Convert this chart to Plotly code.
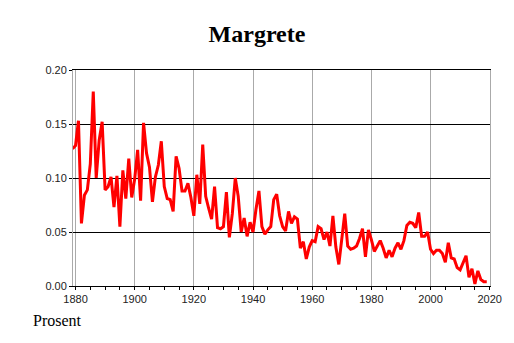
import plotly.graph_objects as go

# Share of the population named Margrete, by year
start_year = 1879
share = [
    0.127, 0.130, 0.153, 0.058, 0.084, 0.089, 0.113, 0.180, 0.100, 0.135,
    0.152, 0.089, 0.092, 0.101, 0.073, 0.102, 0.055, 0.107, 0.081, 0.118,
    0.082, 0.099, 0.126, 0.079, 0.151, 0.123, 0.110, 0.078, 0.101, 0.112,
    0.134, 0.092, 0.081, 0.080, 0.069, 0.120, 0.109, 0.088, 0.088, 0.095,
    0.082, 0.065, 0.103, 0.076, 0.131, 0.083, 0.072, 0.062, 0.092, 0.054,
    0.053, 0.055, 0.087, 0.045, 0.067, 0.100, 0.083, 0.050, 0.063, 0.046,
    0.059, 0.050, 0.071, 0.088, 0.055, 0.048, 0.052, 0.055, 0.080, 0.085,
    0.065, 0.055, 0.051, 0.069, 0.058, 0.064, 0.062, 0.035, 0.041, 0.025,
    0.036, 0.042, 0.041, 0.055, 0.053, 0.043, 0.050, 0.037, 0.065, 0.036,
    0.020, 0.044, 0.067, 0.037, 0.034, 0.035, 0.037, 0.044, 0.053, 0.027,
    0.052, 0.043, 0.032, 0.037, 0.042, 0.035, 0.026, 0.033, 0.027, 0.035,
    0.040, 0.034, 0.042, 0.056, 0.059, 0.058, 0.054, 0.068, 0.046, 0.046,
    0.050, 0.034, 0.030, 0.033, 0.033, 0.030, 0.022, 0.040, 0.026, 0.025,
    0.017, 0.015, 0.021, 0.028, 0.008, 0.016, 0.002, 0.014, 0.006, 0.004,
    0.004,
]
years = list(range(start_year, start_year + len(share)))

x_tick_vals = [1880, 1900, 1920, 1940, 1960, 1980, 2000, 2020]
x_tick_text = ["1880", "1900", "1920", "1940", "1960", "1980", "2000", "2020"]
y_tick_vals = [0.00, 0.05, 0.10, 0.15, 0.20]
y_tick_text = ["0.00", "0.05", "0.10", "0.15", "0.20"]

fig = go.Figure(
    go.Scatter(
        x=years,
        y=share,
        mode="lines",
        line=dict(color="#ff0000", width=3),
        hoverinfo="x+y",
    )
)

tick_font = dict(family="Liberation Sans, Arial, sans-serif", size=11, color="#222222")

fig.update_layout(
    width=514,
    height=343,
    margin=dict(l=73, r=21, t=70, b=57),
    paper_bgcolor="white",
    plot_bgcolor="white",
    showlegend=False,
    title=dict(
        text="<b>Margrete</b>",
        font=dict(family="Liberation Serif, Times New Roman, serif", size=24, color="black"),
        x=0.5,
        xanchor="center",
        xref="container",
        yref="container",
        y=1 - 34 / 343,
        yanchor="middle",
    ),
    xaxis=dict(
        range=[1879.15, 2020.1],
        tickmode="array",
        tickvals=x_tick_vals,
        ticktext=x_tick_text,
        ticks="outside",
        ticklen=3,
        tickcolor="black",
        tickfont=tick_font,
        showgrid=True,
        gridcolor="#aaaaaa",
        gridwidth=1,
        showline=True,
        mirror=True,
        linecolor="black",
        linewidth=1,
        zeroline=False,
        minor=dict(dtick=5, tick0=1880, ticks="outside", ticklen=3,
                   tickcolor="black", showgrid=False),
    ),
    yaxis=dict(
        range=[0, 0.2],
        tickmode="array",
        tickvals=y_tick_vals,
        ticktext=y_tick_text,
        ticks="outside",
        ticklen=3,
        tickcolor="black",
        tickfont=tick_font,
        showgrid=True,
        gridcolor="black",
        gridwidth=1,
        showline=True,
        mirror=True,
        linecolor="#aaaaaa",
        linewidth=1,
        zeroline=False,
    ),
    annotations=[
        dict(
            text="Prosent",
            xref="paper",
            yref="paper",
            x=-0.1,
            y=-0.11,
            xanchor="left",
            yanchor="top",
            showarrow=False,
            font=dict(family="Liberation Serif, Times New Roman, serif", size=16, color="black"),
        )
    ],
)

fig.write_html("out.html")
